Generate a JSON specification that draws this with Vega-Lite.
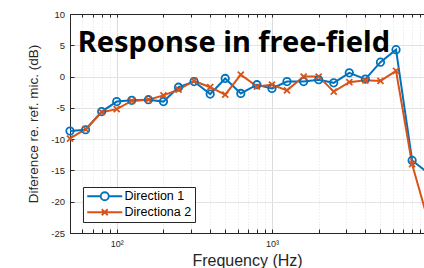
{
  "$schema": "https://vega.github.io/schema/vega-lite/v6.json",
  "width": 354,
  "height": 219,
  "autosize": {"type": "none"},
  "padding": {"left": 70, "top": 14, "right": 0, "bottom": 35},
  "config": {"view": {"stroke": null}, "font": "Liberation Sans", "axis": {"labelOverlap": false, "labelFlush": false}},
  "data": {"values": [
    {"f": 50, "db": -8.7, "series": "Direction 1"},
    {"f": 63, "db": -8.5, "series": "Direction 1"},
    {"f": 80, "db": -5.6, "series": "Direction 1"},
    {"f": 100, "db": -4.0, "series": "Direction 1"},
    {"f": 125, "db": -3.8, "series": "Direction 1"},
    {"f": 160, "db": -3.7, "series": "Direction 1"},
    {"f": 200, "db": -4.0, "series": "Direction 1"},
    {"f": 250, "db": -1.7, "series": "Direction 1"},
    {"f": 315, "db": -0.8, "series": "Direction 1"},
    {"f": 400, "db": -2.8, "series": "Direction 1"},
    {"f": 500, "db": -0.3, "series": "Direction 1"},
    {"f": 630, "db": -2.7, "series": "Direction 1"},
    {"f": 800, "db": -1.3, "series": "Direction 1"},
    {"f": 1000, "db": -1.9, "series": "Direction 1"},
    {"f": 1250, "db": -0.8, "series": "Direction 1"},
    {"f": 1600, "db": -0.8, "series": "Direction 1"},
    {"f": 2000, "db": -0.5, "series": "Direction 1"},
    {"f": 2500, "db": -1.0, "series": "Direction 1"},
    {"f": 3150, "db": 0.6, "series": "Direction 1"},
    {"f": 4000, "db": -0.4, "series": "Direction 1"},
    {"f": 5000, "db": 2.3, "series": "Direction 1"},
    {"f": 6300, "db": 4.3, "series": "Direction 1"},
    {"f": 8000, "db": -13.4, "series": "Direction 1"},
    {"f": 10000, "db": -15.3, "series": "Direction 1"},
    {"f": 50, "db": -9.9, "series": "Directiona 2"},
    {"f": 63, "db": -8.4, "series": "Directiona 2"},
    {"f": 80, "db": -5.7, "series": "Directiona 2"},
    {"f": 100, "db": -5.2, "series": "Directiona 2"},
    {"f": 125, "db": -3.9, "series": "Directiona 2"},
    {"f": 160, "db": -3.7, "series": "Directiona 2"},
    {"f": 200, "db": -3.0, "series": "Directiona 2"},
    {"f": 250, "db": -2.1, "series": "Directiona 2"},
    {"f": 315, "db": -0.7, "series": "Directiona 2"},
    {"f": 400, "db": -1.7, "series": "Directiona 2"},
    {"f": 500, "db": -2.9, "series": "Directiona 2"},
    {"f": 630, "db": 0.3, "series": "Directiona 2"},
    {"f": 800, "db": -1.6, "series": "Directiona 2"},
    {"f": 1000, "db": -1.3, "series": "Directiona 2"},
    {"f": 1250, "db": -2.2, "series": "Directiona 2"},
    {"f": 1600, "db": 0.0, "series": "Directiona 2"},
    {"f": 2000, "db": 0.0, "series": "Directiona 2"},
    {"f": 2500, "db": -2.4, "series": "Directiona 2"},
    {"f": 3150, "db": -0.9, "series": "Directiona 2"},
    {"f": 4000, "db": -0.6, "series": "Directiona 2"},
    {"f": 5000, "db": -0.7, "series": "Directiona 2"},
    {"f": 6300, "db": 0.9, "series": "Directiona 2"},
    {"f": 8000, "db": -14.0, "series": "Directiona 2"},
    {"f": 10000, "db": -22.5, "series": "Directiona 2"}
  ]},
  "resolve": {"axis": {"x": "independent"}},
  "layer": [
    {
      "mark": {"type": "line", "clip": true, "strokeWidth": 2},
      "encoding": {
        "x": {
          "field": "f", "type": "quantitative",
          "scale": {"type": "log", "domain": [50, 9540], "nice": false},
          "axis": {
            "orient": "bottom",
            "values": [50, 60, 70, 80, 90, 100, 200, 300, 400, 500, 600, 700, 800, 900, 1000, 2000, 3000, 4000, 5000, 6000, 7000, 8000, 9000],
            "tickCount": 40,
            "labelExpr": "datum.value == 100 ? '10²' : datum.value == 1000 ? '10³' : ''",
            "labelOverlap": false,
            "labelFlush": false,
            "labelFontSize": 9,
            "labelColor": "#262626",
            "labelPadding": 10,
            "tickSize": -4,
            "tickColor": "#262626",
            "domainColor": "#262626",
            "grid": true,
            "gridDash": {"condition": {"test": "datum.value == 100 || datum.value == 1000", "value": []}, "value": [1, 2]},
            "gridColor": {"condition": {"test": "datum.value == 100 || datum.value == 1000", "value": "#dcdcdc"}, "value": "#e2e2e2"},
            "title": "Frequency (Hz)",
            "titleFontSize": 16,
            "titleFontWeight": "normal",
            "titleColor": "#262626",
            "titlePadding": 4
          }
        },
        "y": {
          "field": "db", "type": "quantitative",
          "scale": {"domain": [-25, 10], "nice": false},
          "axis": {
            "values": [-25, -20, -15, -10, -5, 0, 5, 10],
            "tickCount": 20,
            "labelExpr": "'' + datum.value",
            "labelOverlap": false,
            "labelFlush": false,
            "labelFontSize": 9.5,
            "labelColor": "#262626",
            "labelPadding": 9.5,
            "tickSize": -4,
            "tickColor": "#262626",
            "domainColor": "#262626",
            "gridColor": "#e3e3e3",
            "title": "Diference re. ref. mic. (dB)",
            "titleFontSize": 13.5,
            "titleFontWeight": "normal",
            "titleColor": "#262626",
            "titlePadding": 10
          }
        },
        "color": {
          "field": "series", "type": "nominal",
          "scale": {"domain": ["Direction 1", "Directiona 2"], "range": ["#0072BD", "#D95319"]},
          "legend": {
            "orient": "none",
            "legendX": 13,
            "legendY": 173,
            "title": null,
            "direction": "vertical",
            "padding": 3,
            "strokeColor": "#262626",
            "fillColor": "#ffffff",
            "cornerRadius": 0,
            "symbolType": "M-3.5,0L3.5,0",
            "symbolSize": 100,
            "symbolStrokeWidth": 1.8,
            "symbolFillColor": "transparent",
            "symbolOffset": 12.5,
            "labelOffset": 13.5,
            "labelFontSize": 12.5,
            "labelColor": "#000000",
            "rowPadding": 1,
            "encode": {
              "symbols": {
                "update": {
                  "shape": {"signal": "datum.value === 'Direction 1' ? 'M-3.5,0L-0.8,0M0.8,0L3.5,0M0.8,0A0.8,0.8 0 1 1 -0.8,0A0.8,0.8 0 1 1 0.8,0' : 'M-3.5,0L3.5,0M-0.6,-0.6L0.6,0.6M-0.6,0.6L0.6,-0.6'"},
                  "fill": {"value": "transparent"}
                }
              }
            }
          }
        }
      }
    },
    {
      "transform": [{"filter": "datum.f < 9600 && datum.series == 'Direction 1'"}],
      "mark": {"type": "point", "filled": false, "strokeWidth": 1.8, "opacity": 1, "shape": "circle", "size": 55, "color": "#0072BD"},
      "encoding": {
        "x": {
          "field": "f", "type": "quantitative",
          "axis": {
            "orient": "top",
            "values": [50, 60, 70, 80, 90, 100, 200, 300, 400, 500, 600, 700, 800, 900, 1000, 2000, 3000, 4000, 5000, 6000, 7000, 8000, 9000],
            "tickCount": 40,
            "labels": false,
            "grid": false,
            "tickSize": -3,
            "tickColor": "#262626",
            "domainColor": "#262626",
            "title": null
          }
        },
        "y": {"field": "db", "type": "quantitative"}
      }
    },
    {
      "transform": [{"filter": "datum.f < 9600 && datum.series == 'Directiona 2'"}],
      "mark": {"type": "point", "filled": false, "strokeWidth": 1.8, "opacity": 1, "shape": "M-1,-1L1,1M-1,1L1,-1", "size": 36, "color": "#D95319"},
      "encoding": {
        "x": {"field": "f", "type": "quantitative", "axis": null},
        "y": {"field": "db", "type": "quantitative"}
      }
    },
    {
      "data": {"values": [{"t": "Response in free-field"}]},
      "mark": {"type": "text", "font": "Noto Sans", "fontWeight": "bold", "fontSize": 29, "align": "left", "baseline": "alphabetic", "color": "#000000"},
      "encoding": {
        "x": {"datum": 56, "type": "quantitative", "axis": null},
        "y": {"datum": 4, "type": "quantitative"},
        "text": {"field": "t"}
      }
    }
  ]
}
